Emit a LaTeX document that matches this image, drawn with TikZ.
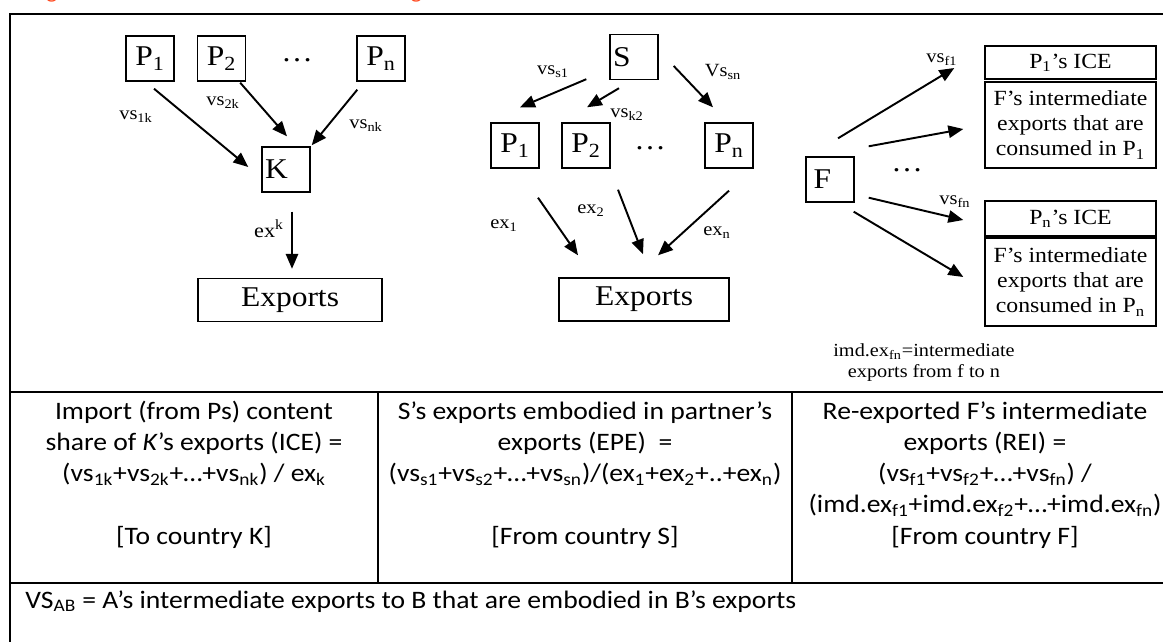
\documentclass[tikz,border=0pt]{standalone}
\usepackage{fontspec}
\setmainfont{Liberation Serif}[FakeStretch=1.1]
\newfontfamily\calibri{Carlito}[FakeStretch=1.1]
\usetikzlibrary{arrows.meta, calc}
\definecolor{ink}{RGB}{0,0,0}
\definecolor{captionred}{RGB}{255,72,30}
\tikzset{
    country/.style={
        draw=ink,
        line width=0.8pt,
        minimum width=0.96cm,
        minimum height=0.9cm,
        inner sep=0pt,
        font=\fontsize{16.3}{18}\selectfont
    },
    lettered/.style={
        country,
        align=left,
        text width=0.84cm,
        inner xsep=0.06cm
    },
    exportbox/.style={
        country,
        minimum height=0.86cm
    },
    infobox/.style={
        draw=ink,
        line width=0.8pt,
        inner sep=0pt,
        minimum width=3.42cm,
        align=center,
        font=\fontsize{12.3}{14.2}\selectfont
    },
    flow/.style={
        -{Triangle[length=8.5pt,width=7pt]},
        draw=ink,
        line width=1.1pt
    },
    flowlabel/.style={
        inner sep=0pt,
        font=\fontsize{10.6}{12}\selectfont
    },
    gap/.style={
        inner sep=0pt,
        font=\fontsize{16.3}{18}\selectfont
    },
    note/.style={
        inner sep=0pt,
        align=center,
        font=\fontsize{10.5}{11.9}\selectfont
    },
    frame/.style={
        draw=ink,
        line width=1.2pt
    },
    rule/.style={
        draw=ink,
        line width=1pt
    },
    cell/.style={
        inner sep=0pt,
        align=center,
        anchor=base,
        font=\calibri\fontsize{14.3}{17.75}\selectfont
    },
    capline/.style={
        inner sep=0pt,
        text=captionred,
        font=\calibri\fontsize{12}{14}\selectfont
    }
}

\begin{document}
\begin{tikzpicture}[x=0.02cm, y=-0.02cm]
\useasboundingbox (0,0) rectangle (1163,642);

% Caption line, cut by the page edge
\begin{scope}
    \clip (0,0) rectangle (1163,642);
    \node[capline, anchor=base west] (cap) at (30,-1) {Figure 1: Three indicators of vertical integration};
\end{scope}

% Frame and table rules
\draw[frame] (1163,14) -- (10,14) -- (10,642);
\draw[rule] (10,392) -- (1163,392);
\draw[rule] (10,583) -- (1163,583);
\draw[rule] (378,392) -- (378,583);
\draw[rule] (792,392) -- (792,583);

% Left panel: partners into K
\node[country] (p1k) at (150,58.5) {P\textsubscript{1}};
\node[country] (p2k) at (221.5,58.5) {P\textsubscript{2}};
\node[gap] (dotsk) at (297,60) {\dots};
\node[country] (pnk) at (381,58.5) {P\textsubscript{n}};
\node[lettered] (kbox) at (286,169.5) {K};
\node[exportbox, minimum width=3.68cm] (expk) at (290,300) {Exports};

\draw[flow] ([shift={(4,7)}]p1k.south) -- ([shift={(-13,-2.5)}]kbox.west);
\draw[flow] ([shift={(-6,1)}]p2k.south east) -- ([shift={(1,-10)}]kbox.north);
\draw[flow] ([shift={(1,8)}]pnk.south west) -- ([shift={(1,-1)}]kbox.north east);
\draw[flow] ([shift={(6,19)}]kbox.south) -- ([shift={(2,-9)}]expk.north);

\node[flowlabel] (vs1k) at (136,117) {vs\textsubscript{1k}};
\node[flowlabel] (vs2k) at (223,103) {vs\textsubscript{2k}};
\node[flowlabel] (vsnk) at (366,126) {vs\textsubscript{nk}};
\node[flowlabel, font=\fontsize{11.5}{13}\selectfont] (exk) at (269,229) {ex\textsuperscript{k}};

% Middle panel: S out to partners
\node[lettered] (sbox) at (634,57) {S};
\node[country] (p1s) at (515,145.5) {P\textsubscript{1}};
\node[country] (p2s) at (586,145.5) {P\textsubscript{2}};
\node[gap] (dotss) at (650,148) {\dots};
\node[country] (pns) at (729,145.5) {P\textsubscript{n}};
\node[exportbox, minimum width=3.4cm] (exps) at (644,299.5) {Exports};

\draw[flow] ([shift={(-23,-1)}]sbox.south west) -- ([shift={(5,-15)}]p1s.north);
\draw[flow] ([shift={(-15,8)}]sbox.south) -- ([shift={(1,-15)}]p2s.north);
\draw[flow] ([shift={(15,9)}]sbox.east) -- ([shift={(-16,-15)}]pns.north);
\draw[flow] ([shift={(23,29)}]p1s.south) -- ([shift={(-66,-22)}]exps.north);
\draw[flow] ([shift={(32,21)}]p2s.south) -- ([shift={(-1,-23)}]exps.north);
\draw[flow] ([shift={(0,22)}]pns.south) -- ([shift={(14,-22)}]exps.north);

\node[flowlabel] (vss1) at (553,72) {vs\textsubscript{s1}};
\node[flowlabel] (vssn) at (723,72) {Vs\textsubscript{sn}};
\node[flowlabel] (vsk2) at (627,115) {vs\textsubscript{k2}};
\node[flowlabel] (ex1) at (504,226) {ex\textsubscript{1}};
\node[flowlabel] (ex2) at (591,211) {ex\textsubscript{2}};
\node[flowlabel] (exn) at (717,233) {ex\textsubscript{n}};

% Right panel: F re-exported
\node[lettered, inner xsep=0.15cm, text width=0.66cm] (fbox) at (830,179.5) {F};
\node[gap] (dotsf) at (907,170) {\dots};
\node[infobox, minimum height=0.66cm] (ice1) at (1070.5,62.5) {P\textsubscript{1}’s ICE};
\node[infobox, minimum height=1.72cm] (cons1) at (1070.5,125) {F’s intermediate\\exports that are\\consumed in P\textsubscript{1}};
\node[infobox, minimum height=0.7cm] (icen) at (1070.5,218.5) {P\textsubscript{n}’s ICE};
\node[infobox, minimum height=1.76cm] (consn) at (1070.5,282) {F’s intermediate\\exports that are\\consumed in P\textsubscript{n}};

\draw[flow] ([shift={(8,-18)}]fbox.north) -- ([shift={(-30,5.5)}]ice1.west);
\draw[flow] ([shift={(14,-10)}]fbox.north east) -- ([shift={(-21,4)}]cons1.west);
\draw[flow] ([shift={(14,-5)}]fbox.south east) -- ([shift={(-21,1.5)}]icen.west);
\draw[flow] ([shift={(-1,9)}]fbox.south east) -- ([shift={(-21,-5)}]consn.west);

\node[flowlabel] (vsf1) at (942,60) {vs\textsubscript{f1}};
\node[flowlabel] (vsfn) at (955,202) {vs\textsubscript{fn}};
\node[note] (imdnote) at (924,363) {imd.ex\textsubscript{fn}=intermediate\\exports from f to n};

% Table of measures (anchored on the last line)
\node[cell] (ice) at (194,544) {Import (from Ps) content\\share of \textit{K}’s exports (ICE) =\\(vs\textsubscript{1k}+vs\textsubscript{2k}+…+vs\textsubscript{nk}) / ex\textsubscript{k}\\[17.75pt]{[To country K]}};
\node[cell] (epe) at (585,544) {S’s exports embodied in partner’s\\exports (EPE)\ \ =\\(vs\textsubscript{s1}+vs\textsubscript{s2}+…+vs\textsubscript{sn})/(ex\textsubscript{1}+ex\textsubscript{2}+..+ex\textsubscript{n})\\[17.75pt]{[From country S]}};
\node[cell] (rei) at (985,544) {Re-exported F’s intermediate\\exports (REI) =\\(vs\textsubscript{f1}+vs\textsubscript{f2}+…+vs\textsubscript{fn}) /\\(imd.ex\textsubscript{f1}+imd.ex\textsubscript{f2}+…+imd.ex\textsubscript{fn})\\{[From country F]}};
\node[cell, anchor=base west] (vsdef) at (25,608) {VS\textsubscript{AB} = A’s intermediate exports to B that are embodied in B’s exports};

\end{tikzpicture}
\end{document}
